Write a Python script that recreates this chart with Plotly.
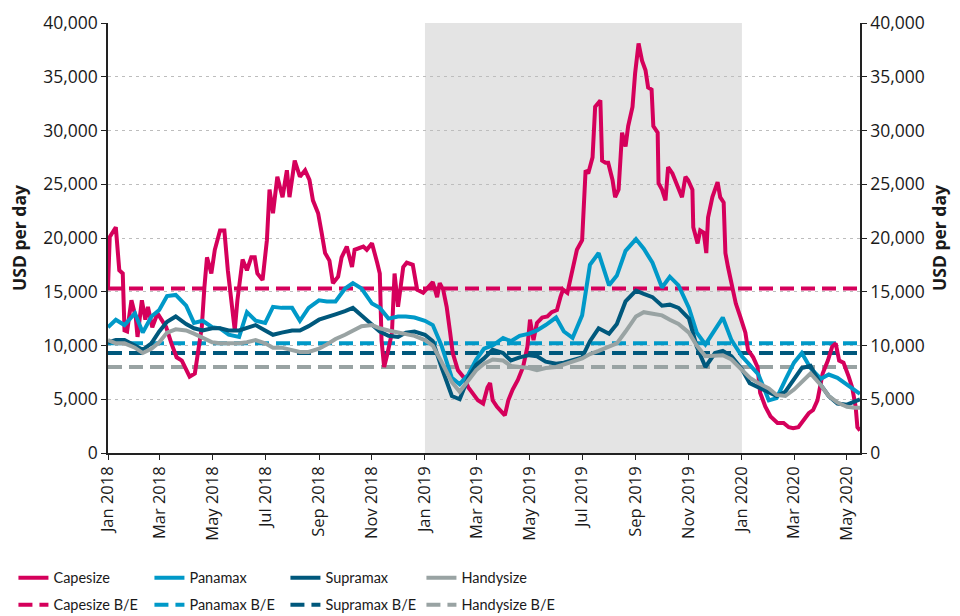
import plotly.graph_objects as go

# ---------------- data ----------------
X_START = "2018-01-01"
X_END = "2020-05-16"
SHADE_START = "2019-01-01"
SHADE_END = "2020-01-01"

cape_dates = [
    "2018-01-01", "2018-01-03", "2018-01-10", "2018-01-14", "2018-01-18", "2018-01-20", "2018-01-23", "2018-01-28",
    "2018-02-02", "2018-02-04", "2018-02-09", "2018-02-13", "2018-02-16", "2018-02-21", "2018-02-27",
    "2018-03-04", "2018-03-09", "2018-03-15", "2018-03-21", "2018-03-27",
    "2018-04-01", "2018-04-05", "2018-04-11", "2018-04-14", "2018-04-19", "2018-04-22", "2018-04-25", "2018-04-30",
    "2018-05-04", "2018-05-10", "2018-05-15", "2018-05-19", "2018-05-23", "2018-05-27", "2018-05-30",
    "2018-06-05", "2018-06-10", "2018-06-15", "2018-06-19", "2018-06-22", "2018-06-28",
    "2018-07-03", "2018-07-06", "2018-07-10", "2018-07-15", "2018-07-21", "2018-07-26", "2018-07-29",
    "2018-08-04", "2018-08-10", "2018-08-16", "2018-08-21", "2018-08-25", "2018-08-31",
    "2018-09-04", "2018-09-08", "2018-09-13", "2018-09-17", "2018-09-23", "2018-09-27",
    "2018-10-03", "2018-10-09", "2018-10-12", "2018-10-22", "2018-10-26",
    "2018-11-01", "2018-11-07", "2018-11-10", "2018-11-12", "2018-11-15", "2018-11-19", "2018-11-24", "2018-11-27",
    "2018-12-01", "2018-12-07", "2018-12-11", "2018-12-18", "2018-12-23", "2018-12-30",
    "2019-01-04", "2019-01-10", "2019-01-15", "2019-01-18", "2019-01-22", "2019-01-26", "2019-01-30",
    "2019-02-02", "2019-02-08", "2019-02-14", "2019-02-20", "2019-02-25",
    "2019-03-03", "2019-03-09", "2019-03-14", "2019-03-17", "2019-03-20", "2019-03-25", "2019-03-31",
    "2019-04-03", "2019-04-07", "2019-04-12", "2019-04-18", "2019-04-24", "2019-04-29",
    "2019-05-02", "2019-05-06", "2019-05-10", "2019-05-16", "2019-05-22", "2019-05-27",
    "2019-06-02", "2019-06-06", "2019-06-09", "2019-06-14", "2019-06-17", "2019-06-21", "2019-06-25",
    "2019-07-01", "2019-07-05", "2019-07-08", "2019-07-13", "2019-07-16", "2019-07-22", "2019-07-24", "2019-07-28", "2019-07-31",
    "2019-08-05", "2019-08-08", "2019-08-12", "2019-08-16", "2019-08-20", "2019-08-23", "2019-08-28", "2019-08-31",
    "2019-09-04", "2019-09-08", "2019-09-12", "2019-09-15", "2019-09-19", "2019-09-21", "2019-09-26", "2019-09-27",
    "2019-10-01", "2019-10-05", "2019-10-08", "2019-10-13", "2019-10-16", "2019-10-20", "2019-10-24", "2019-10-28", "2019-10-31",
    "2019-11-05", "2019-11-06", "2019-11-11", "2019-11-14", "2019-11-18", "2019-11-21", "2019-11-23", "2019-11-28",
    "2019-12-04", "2019-12-07", "2019-12-11", "2019-12-13", "2019-12-16", "2019-12-21", "2019-12-25", "2019-12-30",
    "2020-01-05", "2020-01-08", "2020-01-14", "2020-01-19", "2020-01-22", "2020-01-28",
    "2020-02-03", "2020-02-11", "2020-02-18", "2020-02-24", "2020-02-29",
    "2020-03-06", "2020-03-12", "2020-03-18", "2020-03-23", "2020-03-28",
    "2020-04-03", "2020-04-09", "2020-04-14", "2020-04-18", "2020-04-22", "2020-04-27",
    "2020-05-03", "2020-05-07", "2020-05-11", "2020-05-13", "2020-05-16",
]
capesize = [
    15400, 20100, 21000, 17000, 16700, 11400, 11300, 14200,
    12600, 10800, 14200, 12400, 13600, 11700, 13000,
    12400, 11700, 10200, 8900, 8600,
    7700, 7100, 7400, 8900, 11700, 15400, 18200, 16700,
    18900, 20700, 20700, 17000, 14200, 11400, 14200,
    18000, 17000, 18200, 18200, 16700, 16100,
    19800, 24500, 22300, 25700, 23800, 26300, 23800,
    27200, 25700, 26300, 25400, 23500, 22300,
    20500, 18600, 17900, 15800, 16400, 18200,
    19200, 17300, 18900, 19200, 18900,
    19500, 17700, 16700, 10500, 8000, 9300, 11200, 16700,
    13600, 17300, 17700, 17500, 15200, 14900,
    15400, 15900, 14500, 15800, 15200, 13600, 11200,
    9300, 7700, 7100, 6100, 5600,
    4900, 4600, 6100, 6500, 4900, 4300, 3700,
    3500, 4900, 5900, 6800, 8000, 9900,
    12400, 10500, 12100, 12600, 12700, 13100,
    13300, 14500, 15200, 14900, 16100, 17700, 18900,
    19800, 26300, 26000, 27500, 32200, 32800, 27200, 27000, 27000,
    25400, 23800, 24500, 29800, 28500, 30400, 32200, 35300,
    38100, 36500, 35600, 34000, 33800, 30400, 29800, 25100,
    24500, 23500, 26600, 26000, 25400, 24800, 23800, 25700, 25400,
    24500, 21000, 19500, 20700, 20500, 18600, 21900, 23800,
    25200, 23800, 23300, 18600, 17300, 15200, 13900, 12700,
    11200, 9600, 8900, 8000, 5600, 4300,
    3400, 2800, 2800, 2400, 2300,
    2400, 3100, 3700, 4000, 4900,
    7400, 8600, 9900, 10200, 8600, 8400,
    7100, 6100, 4300, 2400, 2100,
]

# 1st, 10th and 20th of each month
grid_dates = []
for yr in (2018, 2019, 2020):
    for mo in range(1, 13):
        if yr == 2020 and mo > 4:
            break
        for dd in (1, 10, 20):
            grid_dates.append(f"{yr}-{mo:02d}-{dd:02d}")
grid_dates += ["2020-05-01", "2020-05-10", "2020-05-16"]

panamax = [
    11700, 12400, 11900, 13000, 11200, 12700, 13300, 14600, 14700, 13700, 12100, 12300,
    11700, 11600, 11000, 10800, 13100, 12300, 12100, 13600, 13500, 13500, 12300, 13500,
    14200, 14100, 14100, 15300, 15800, 15300, 13900, 13500, 12500, 12700, 12700, 12600,
    12300, 11900, 10000, 7000, 6400, 7300, 8700, 9700, 10000, 10700, 10400, 10900,
    11100, 11400, 11900, 12600, 11300, 10700, 12800, 17500, 18600, 15600, 16500, 18800,
    19900, 19000, 17700, 15400, 16400, 15600, 13500, 11200, 10100, 11400, 12600, 10500,
    9000, 8200, 7300, 4900, 5100, 6800, 8400, 9300, 7900, 6900, 7300, 7000,
    6400, 5800, 5500,
]
supramax = [
    10300, 10500, 10500, 10000, 9600, 10200, 11300, 12200, 12700, 12000, 11600, 11400,
    11600, 11600, 11400, 11400, 11600, 11900, 11400, 11000, 11200, 11400, 11400, 11800,
    12400, 12600, 12900, 13200, 13500, 12800, 11900, 11300, 10900, 10800, 11200, 11300,
    11000, 10400, 8000, 5300, 5000, 7000, 8200, 8800, 9600, 9300, 8600, 8900,
    9100, 9000, 8500, 8300, 8400, 8600, 8900, 10400, 11600, 11100, 12000, 14100,
    15100, 14800, 14500, 13700, 13800, 13500, 12500, 9900, 8000, 9300, 9500, 9000,
    7800, 6500, 6100, 5700, 5300, 5700, 6800, 7900, 8100, 6300, 5300, 4600,
    4500, 4800, 5000,
]
handysize = [
    10500, 10200, 10200, 9800, 9300, 9700, 10300, 11200, 11500, 11400, 11100, 10700,
    10300, 10200, 10200, 10200, 10300, 10500, 10200, 9800, 9800, 9600, 9400, 9400,
    9700, 10100, 10600, 11000, 11400, 11800, 11900, 11600, 11400, 11200, 11100, 10900,
    10500, 10000, 8500, 6600, 5700, 6700, 7700, 8300, 8700, 8600, 8100, 8000,
    7900, 7700, 7900, 8000, 8200, 8500, 8800, 9200, 9500, 9900, 10200, 11300,
    12700, 13100, 13000, 12800, 12400, 12000, 11200, 10000, 9000, 9100, 9100, 8700,
    7700, 7000, 6500, 6000, 5400, 5300, 5900, 6600, 7400, 6300, 5300, 4700,
    4300, 4200, 4200,
]

breakeven_names = ["Capesize B/E", "Panamax B/E", "Supramax B/E", "Handysize B/E"]
breakeven_values = [15300, 10200, 9300, 8000]

series_names = ["Capesize", "Panamax", "Supramax", "Handysize"]
colors = ["#D5005B", "#0099C8", "#00587C", "#99A3A3"]

# ---------------- figure ----------------
fig = go.Figure()

series_x = [cape_dates, grid_dates, grid_dates, grid_dates]
series_y = [capesize, panamax, supramax, handysize]

# break-even lines on the left axis (drawn beneath)
for name, val, col in zip(breakeven_names, breakeven_values, colors):
    fig.add_trace(go.Scatter(
        x=[X_START, X_END], y=[val, val], mode="lines", name=name,
        line=dict(color=col, width=4, dash="14px,7px"),
        legend="legend2", hoverinfo="skip", yaxis="y"))

# rate series on the right axis (same scale, drawn on top)
for name, xs, ys, col in zip(series_names, series_x, series_y, colors):
    fig.add_trace(go.Scatter(
        x=xs, y=ys, mode="lines", name=name,
        line=dict(color=col, width=4),
        legend="legend", yaxis="y2"))

TICK_FONT = dict(family="Open Sans, Lato, sans-serif", size=17.5, color="#1a1a1a")
TITLE_FONT = dict(family="Open Sans, Lato, sans-serif", size=17.5, color="#1a1a1a")
LEG_FONT = dict(family="Lato, Roboto, sans-serif", size=14.5, color="#1a1a1a")

fig.add_shape(type="rect", xref="x", yref="y", x0=SHADE_START, x1=SHADE_END,
              y0=0, y1=40000, fillcolor="#E4E4E4", line=dict(width=0), layer="below")

yaxis_common = dict(
    range=[0, 40000], dtick=5000, tickformat=",", ticks="outside", ticklen=5,
    tickcolor="#222", showline=True, linecolor="#222", linewidth=1.5,
    tickfont=TICK_FONT, zeroline=False, automargin=False,
)

legend_common = dict(
    orientation="h", xref="container", yref="container", x=0.014, xanchor="left",
    yanchor="middle", entrywidth=91, entrywidthmode="pixels", font=LEG_FONT,
    itemwidth=30, bgcolor="rgba(0,0,0,0)", traceorder="normal",
)

fig.update_layout(
    width=960, height=616,
    margin=dict(l=108, r=100, t=23, b=163),
    paper_bgcolor="white", plot_bgcolor="white",
    xaxis=dict(
        type="date", range=[X_START, X_END], tick0="2018-01-01", dtick="M2",
        tickformat="%b %Y", tickangle=-90, ticks="outside", ticklen=5, tickcolor="#222",
        showline=True, linecolor="#222", linewidth=1.5, showgrid=False, automargin=False,
        tickfont=dict(family="Open Sans, Lato, sans-serif", size=16.5, color="#1a1a1a"),
    ),
    yaxis=dict(
        **yaxis_common,
        showgrid=True, gridcolor="#BDBDBD", gridwidth=1, griddash="3px,4px",
        title=dict(text="<b>USD per day</b>", font=TITLE_FONT, standoff=12),
    ),
    yaxis2=dict(
        **yaxis_common, overlaying="y", side="right", showgrid=False, matches="y",
        title=dict(text="<b>USD per day</b>", font=TITLE_FONT, standoff=10),
    ),
    legend=dict(**legend_common, y=0.062),
    legend2=dict(**legend_common, y=0.018),
    showlegend=True,
)

fig.write_html("out.html", config={"displayModeBar": False},
               post_script="document.body.style.margin='0px';")
